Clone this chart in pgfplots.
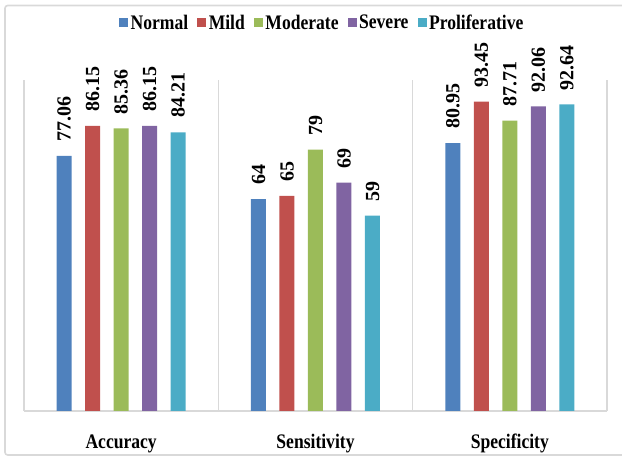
\documentclass[border=0pt]{standalone}
\usepackage{pgfplots}
\pgfplotsset{compat=1.18}
\usepackage{fontspec}
\setmainfont{Liberation Serif}
\newfontfamily\cond{Liberation Serif}[FakeStretch=0.85]
\definecolor{cN}{HTML}{4F81BD}
\definecolor{cMi}{HTML}{C0504D}
\definecolor{cMo}{HTML}{9BBB59}
\definecolor{cS}{HTML}{8064A2}
\definecolor{cP}{HTML}{4BACC6}
\definecolor{gridc}{HTML}{D9D9D9}
\begin{document}
\begin{tikzpicture}
\begin{axis}[
  at={(0,0)}, anchor=south west,
  scale only axis, width=437.25pt, height=248.25pt,
  xmin=-0.5, xmax=2.5, ymin=0, ymax=100,
  ybar=10.125pt, bar width=11.25pt,
  clip=false,
  hide y axis,
  axis x line*=bottom,
  x axis line style={draw=gridc, line width=0.8pt, -},
  xtick={0,1,2},
  xticklabels={Accuracy,Sensitivity,Specificity},
  major tick length=0pt,
  minor xtick={-0.5,0.5,1.5,2.5},
  minor tick length=0pt,
  xminorgrids=true,
  minor grid style={draw=gridc, line width=0.8pt},
  xticklabel style={font=\cond\bfseries\fontsize{15.5}{18}\selectfont, anchor=base, yshift=-27.75pt},
  /pgf/number format/assume math mode=true,
  nodes near coords,
  every node near coord/.append style={rotate=90, anchor=west, font=\bfseries\fontsize{15}{18}\selectfont, inner xsep=10.5pt, inner ysep=0pt, text=black},
  legend style={at={(0.512,1.172)}, anchor=center, draw=none, fill=none, legend columns=-1,
    font=\cond\bfseries\fontsize{15.5}{18}\selectfont,
    /tikz/every even column/.append style={column sep=5pt},
    nodes={inner xsep=1.8pt}},
  legend image code/.code={\fill[#1] (0pt,-3.2pt) rectangle (6.8pt,3.6pt);},
]
\addplot[fill=cN, draw=none] coordinates {(0,77.06) (1,64) (2,80.95)};
\addplot[fill=cMi, draw=none] coordinates {(0,86.15) (1,65) (2,93.45)};
\addplot[fill=cMo, draw=none] coordinates {(0,85.36) (1,79) (2,87.71)};
\addplot[fill=cS, draw=none] coordinates {(0,86.15) (1,69) (2,92.06)};
\addplot[fill=cP, draw=none] coordinates {(0,84.21) (1,59) (2,92.64)};
\legend{Normal,Mild,Moderate,Severe,Proliferative}
\end{axis}
\pgfresetboundingbox
\path[use as bounding box] (-18pt,-34.5pt) rectangle (448.5pt,308.25pt);
\draw[gridc, line width=1.2pt, rounded corners=2pt] (-14.25pt,-33pt) rectangle (460pt,304.1pt);
\end{tikzpicture}
\end{document}
